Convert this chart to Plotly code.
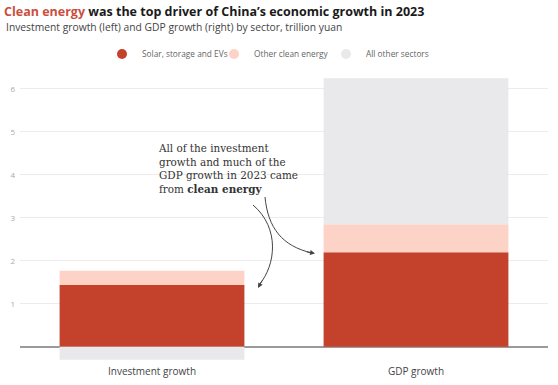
import plotly.graph_objects as go

categories = ["Investment growth", "GDP growth"]
solar_storage_evs = [1.44, 2.20]
other_clean_energy = [0.33, 0.65]
all_other_sectors = [-0.30, 3.40]
series_names = ["Solar, storage and EVs", "Other clean energy", "All other sectors"]
colors = ["#c4412b", "#fdd3c7", "#e9e9eb"]
y_ticks = [1, 2, 3, 4, 5, 6]

W, H = 558, 385
L, R, T, B = 20, 10, 76, 21
pw, ph = W - L - R, H - T - B

def px(x):
    return (x - L) / pw

def py(y):
    return (H - B - y) / ph

fig = go.Figure()
for name, vals, c in zip(series_names, [solar_storage_evs, other_clean_energy, all_other_sectors], colors):
    fig.add_trace(go.Bar(x=categories, y=vals, name=name, marker=dict(color=c, line=dict(width=0)),
                         width=0.7, showlegend=False, hoverinfo="skip"))
for name, c in zip(series_names, colors):
    fig.add_trace(go.Scatter(x=[None], y=[None], mode="markers", name=name,
                             marker=dict(color=c, size=10, symbol="circle")))

font = "Open Sans"
fig.update_layout(
    width=W, height=H, barmode="relative",
    margin=dict(l=L, r=R, t=T, b=B),
    plot_bgcolor="white", paper_bgcolor="white",
    font=dict(family=font, color="#333"),
    title=dict(
        text="<span style='color:#c9503f'>Clean energy</span> was the top driver of China’s economic growth in 2023",
        x=4 / W, xanchor="left", xref="container", yref="container", y=1 - 12 / H, yanchor="middle",
        font=dict(family=font, size=12.5, color="#1a1a1a", weight="bold"),
    ),
    legend=dict(orientation="h", x=px(102), xanchor="left", y=py(54), yanchor="middle",
                font=dict(size=8.3, color="#666"), itemwidth=30, bgcolor="rgba(0,0,0,0)",
                entrywidth=67, entrywidthmode="pixels"),
    xaxis=dict(showgrid=False, showline=False, ticks="", tickfont=dict(size=10, color="#444"),
               range=[-0.5, 1.5], automargin=False),
    yaxis=dict(range=[-0.4, 6.3], tickvals=y_ticks, showgrid=True, gridcolor="#ececec", gridwidth=1,
               zeroline=True, zerolinecolor="#9a9a9a", zerolinewidth=2, automargin=False,
               tickfont=dict(size=8, color="#aaa"), ticks="", ticklabelstandoff=4),
)

fig.add_annotation(text="Investment growth (left) and GDP growth (right) by sector, trillion yuan",
                   xref="paper", yref="paper", x=px(4), y=py(27), xanchor="left", yanchor="middle",
                   showarrow=False, font=dict(family=font, size=10.3, color="#444"))

fig.add_annotation(text="All of the investment<br>growth and much of the<br>GDP growth in 2023 came<br>from <b>clean energy</b>",
                   xref="paper", yref="paper", x=px(156), y=py(168), xanchor="left", yanchor="middle",
                   align="left", showarrow=False,
                   font=dict(family="DejaVu Serif", size=10.4, color="#333"))

def path(pts):
    (x0, y0), (x1, y1), (x2, y2), (x3, y3) = pts
    return (f"M {px(x0)},{py(y0)} C {px(x1)},{py(y1)} {px(x2)},{py(y2)} {px(x3)},{py(y3)}")

fig.add_shape(type="path", xref="paper", yref="paper",
              path=path([(253, 205), (280, 228), (276, 265), (259, 285)]),
              line=dict(color="#444", width=1))
fig.add_shape(type="path", xref="paper", yref="paper",
              path=path([(265, 197), (268, 228), (282, 246), (312, 253)]),
              line=dict(color="#444", width=1))
fig.add_annotation(xref="paper", yref="paper", x=px(258), y=py(288), ax=5, ay=-9, text="",
                   showarrow=True, arrowhead=2, arrowsize=1, arrowwidth=1, arrowcolor="#444")
fig.add_annotation(xref="paper", yref="paper", x=px(315), y=py(253.5), ax=-10, ay=-2, text="",
                   showarrow=True, arrowhead=2, arrowsize=1, arrowwidth=1, arrowcolor="#444")

fig.write_html("out.html", post_script="document.body.style.margin='0';",
               config={"displayModeBar": False})
